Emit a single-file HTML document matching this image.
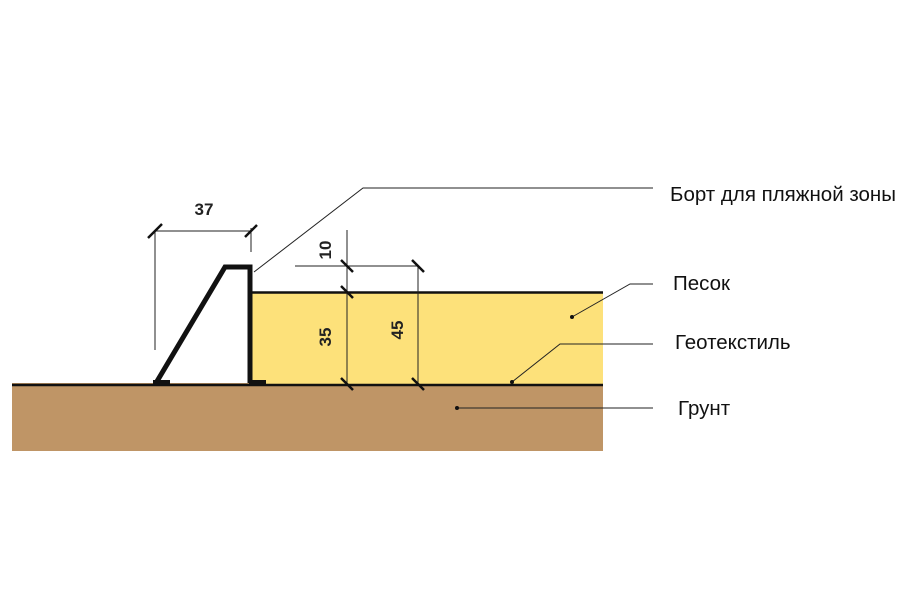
<!DOCTYPE html>
<html><head><meta charset="utf-8"><style>
html,body{margin:0;padding:0;background:#fff;width:916px;height:595px;overflow:hidden}
svg{display:block}
text{font-family:"Liberation Sans","DejaVu Sans",sans-serif}
</style></head><body>
<svg width="916" height="595" viewBox="0 0 916 595">
<rect x="12" y="383" width="591" height="68" fill="#bf9566"/>
<rect x="251" y="292" width="352" height="92" fill="#fde17a"/>
<line x1="251" y1="292.5" x2="603" y2="292.5" stroke="#111" stroke-width="2.5"/>
<line x1="12" y1="385" x2="603" y2="385" stroke="#111" stroke-width="2.5"/>
<polyline points="156,383 225,267 250,267 250,383" fill="none" stroke="#111" stroke-width="5" stroke-linejoin="miter"/>
<rect x="153" y="380" width="17" height="6" fill="#111"/>
<rect x="249" y="380" width="17" height="6" fill="#111"/>
<g stroke="#222" stroke-width="1">
<line x1="154" y1="231" x2="251" y2="231"/>
<line x1="155" y1="231" x2="155" y2="350"/>
<line x1="251" y1="228" x2="251" y2="252"/>
<line x1="295" y1="266" x2="418" y2="266"/>
<line x1="347" y1="230" x2="347" y2="385"/>
<line x1="418" y1="266" x2="418" y2="385"/>
<polyline points="254,272 363,188 653,188" fill="none"/>
<polyline points="572,317 630,284 653,284" fill="none"/>
<polyline points="512,382 560,344 653,344" fill="none"/>
<line x1="457" y1="408" x2="653" y2="408"/>
</g>
<g stroke="#111" stroke-width="2.5">
<line x1="148" y1="238" x2="162" y2="224"/>
<line x1="245" y1="237" x2="257" y2="225"/>
<line x1="341" y1="260" x2="353" y2="272"/>
<line x1="412" y1="260" x2="424" y2="272"/>
<line x1="341" y1="286" x2="353" y2="298"/>
<line x1="341" y1="378" x2="353" y2="390"/>
<line x1="412" y1="378" x2="424" y2="390"/>
</g>
<g fill="#111">
<circle cx="572" cy="317" r="2"/><circle cx="512" cy="382" r="2"/><circle cx="457" cy="408" r="2"/>
</g>
<g font-size="17" font-weight="bold" fill="#222">
<text x="204" y="215" text-anchor="middle">37</text>
<text transform="translate(331,250) rotate(-90)" text-anchor="middle">10</text>
<text transform="translate(331,337) rotate(-90)" text-anchor="middle">35</text>
<text transform="translate(403,330) rotate(-90)" text-anchor="middle">45</text>
</g>
<g font-size="20.5" fill="#111">
<text x="670" y="201">Борт для пляжной зоны</text>
<text x="673" y="290">Песок</text>
<text x="675" y="349">Геотекстиль</text>
<text x="678" y="415">Грунт</text>
</g>
</svg>
</body></html>
